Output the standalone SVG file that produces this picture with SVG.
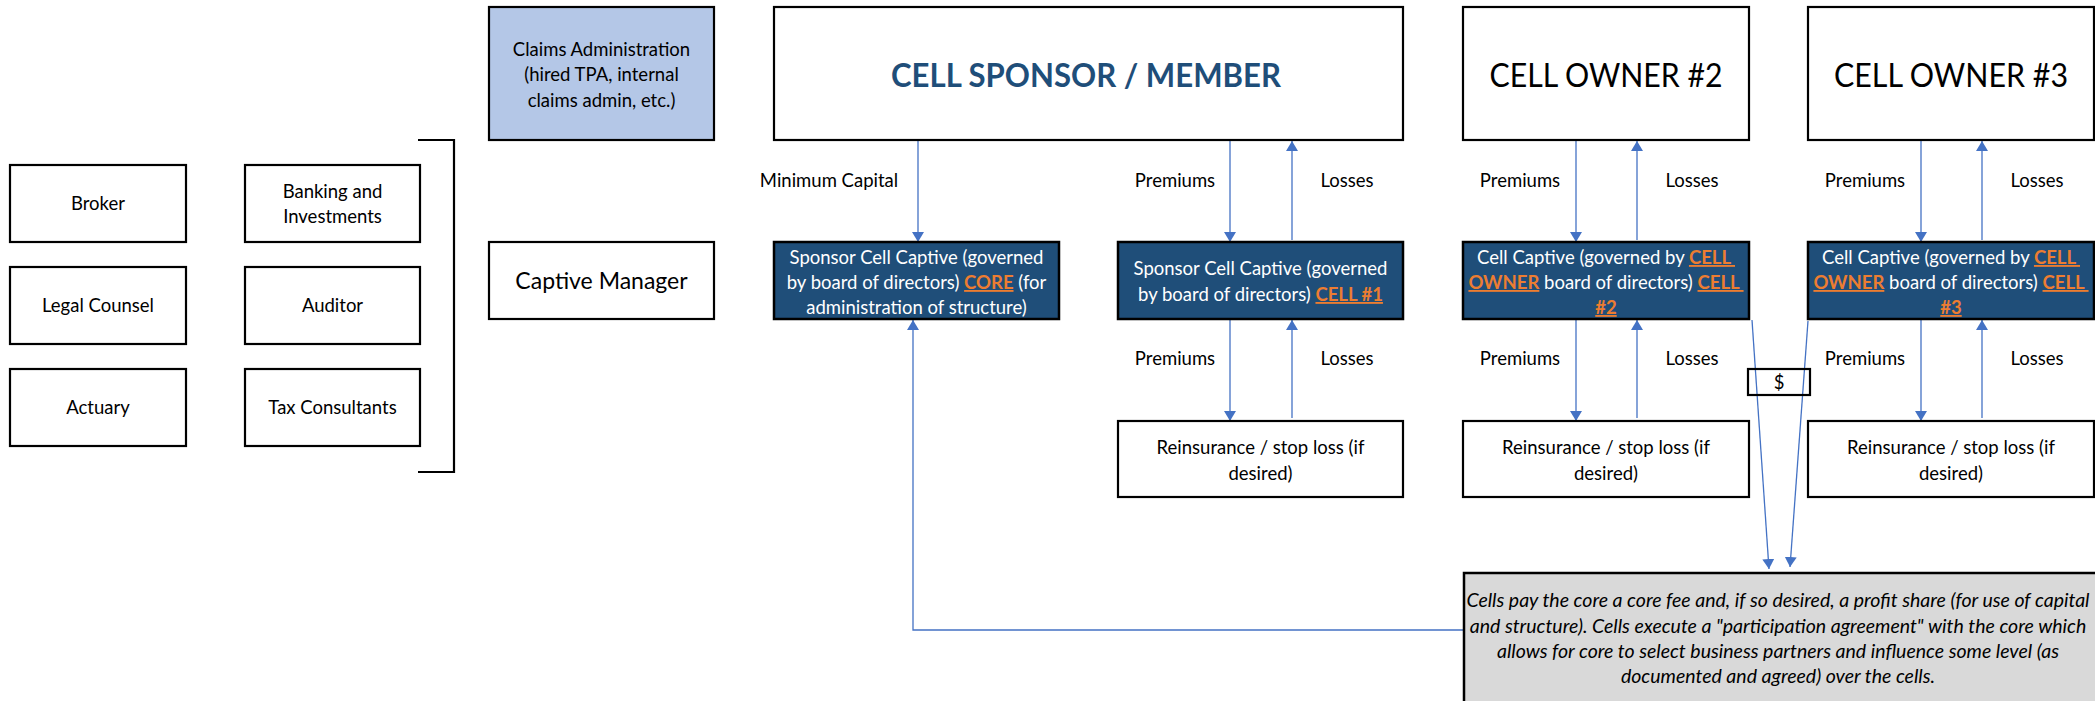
<svg xmlns="http://www.w3.org/2000/svg" width="2095" height="701" viewBox="0 0 2095 701">
<style>
.box{fill:#fff;stroke:#000;stroke-width:2.2}
.dk{fill:#1f4e79;stroke:#000;stroke-width:2.5}
.t{font-family:Lato,"Liberation Sans",sans-serif;font-size:18.5px;fill:#000;text-anchor:middle}
.w{fill:#fff}
.o{fill:#ed7d31;font-weight:bold;text-decoration:underline}
.big{font-size:33px}
.c{fill:none;stroke:#4472c4;stroke-width:1.3}
.n{font-style:italic;font-size:19.5px}
</style>
<defs>
<marker id="ah" markerUnits="userSpaceOnUse" markerWidth="10" markerHeight="12" refX="10" refY="6" orient="auto">
<path d="M0,0 L10,6 L0,12 z" fill="#4472c4"/>
</marker>
</defs>
<rect width="2095" height="701" fill="#fff"/>

<g id="connectors">
<line class="c" x1="918" y1="141" x2="918" y2="242" marker-end="url(#ah)"/>
<line class="c" x1="1230" y1="141" x2="1230" y2="242" marker-end="url(#ah)"/>
<line class="c" x1="1292" y1="240" x2="1292" y2="141" marker-end="url(#ah)"/>
<line class="c" x1="1230" y1="320" x2="1230" y2="421" marker-end="url(#ah)"/>
<line class="c" x1="1292" y1="418" x2="1292" y2="320" marker-end="url(#ah)"/>
<line class="c" x1="1576" y1="141" x2="1576" y2="242" marker-end="url(#ah)"/>
<line class="c" x1="1637" y1="240" x2="1637" y2="141" marker-end="url(#ah)"/>
<line class="c" x1="1576" y1="320" x2="1576" y2="421" marker-end="url(#ah)"/>
<line class="c" x1="1637" y1="418" x2="1637" y2="320" marker-end="url(#ah)"/>
<line class="c" x1="1921" y1="141" x2="1921" y2="242" marker-end="url(#ah)"/>
<line class="c" x1="1982" y1="240" x2="1982" y2="141" marker-end="url(#ah)"/>
<line class="c" x1="1921" y1="320" x2="1921" y2="421" marker-end="url(#ah)"/>
<line class="c" x1="1982" y1="418" x2="1982" y2="320" marker-end="url(#ah)"/>
<line class="c" x1="1752" y1="320" x2="1769" y2="569" marker-end="url(#ah)"/>
<line class="c" x1="1808" y1="321" x2="1790" y2="567" marker-end="url(#ah)"/>
<polyline class="c" points="1463,630 913,630 913,320" marker-end="url(#ah)"/>
</g>

<g id="bracket"><path d="M418,140 H454 V472 H418" fill="none" stroke="#000" stroke-width="2.2"/></g>

<g id="broker"><rect class="box" x="10" y="165" width="176" height="77"/><text class="t" x="98" y="210">Broker</text></g>
<g id="banking"><rect class="box" x="245" y="165" width="175" height="77"/><text class="t" x="332.5" y="198">Banking and</text><text class="t" x="332.5" y="223">Investments</text></g>
<g id="legal"><rect class="box" x="10" y="267" width="176" height="77"/><text class="t" x="98" y="312">Legal Counsel</text></g>
<g id="auditor"><rect class="box" x="245" y="267" width="175" height="77"/><text class="t" x="332.5" y="312">Auditor</text></g>
<g id="actuary"><rect class="box" x="10" y="369" width="176" height="77"/><text class="t" x="98" y="414">Actuary</text></g>
<g id="tax"><rect class="box" x="245" y="369" width="175" height="77"/><text class="t" x="332.5" y="414">Tax Consultants</text></g>

<g id="claims"><rect x="489" y="7" width="225" height="133" fill="#b4c7e7" stroke="#000" stroke-width="2.2"/>
<text class="t" x="601.5" y="56">Claims Administration</text><text class="t" x="601.5" y="81">(hired TPA, internal</text><text class="t" x="601.5" y="107">claims admin, etc.)</text></g>
<g id="captive-manager"><rect class="box" x="489" y="242" width="225" height="77"/><text class="t" x="601.5" y="289" style="font-size:23px">Captive Manager</text></g>

<g id="sponsor"><rect class="box" x="774" y="7" width="629" height="133"/><text class="t big" x="1086" y="87" textLength="390" lengthAdjust="spacingAndGlyphs" style="fill:#1f4e79;font-weight:bold">CELL SPONSOR / MEMBER</text></g>
<g id="owner2"><rect class="box" x="1463" y="7" width="286" height="133"/><text class="t big" x="1606" y="87" textLength="233" lengthAdjust="spacingAndGlyphs">CELL OWNER #2</text></g>
<g id="owner3"><rect class="box" x="1808" y="7" width="286" height="133"/><text class="t big" x="1951" y="87" textLength="234" lengthAdjust="spacingAndGlyphs">CELL OWNER #3</text></g>

<g id="labels">
<text class="t" x="829" y="187">Minimum Capital</text>
<text class="t" x="1175" y="187">Premiums</text><text class="t" x="1347" y="187">Losses</text>
<text class="t" x="1175" y="365">Premiums</text><text class="t" x="1347" y="365">Losses</text>
<text class="t" x="1520" y="187">Premiums</text><text class="t" x="1692" y="187">Losses</text>
<text class="t" x="1520" y="365">Premiums</text><text class="t" x="1692" y="365">Losses</text>
<text class="t" x="1865" y="187">Premiums</text><text class="t" x="2037" y="187">Losses</text>
<text class="t" x="1865" y="365">Premiums</text><text class="t" x="2037" y="365">Losses</text>
</g>

<g id="core"><rect class="dk" x="774" y="242" width="285" height="77"/>
<text class="t w" x="916.5" y="264">Sponsor Cell Captive (governed</text>
<text class="t w" x="916.5" y="289">by board of directors) <tspan class="o">CORE</tspan> (for</text>
<text class="t w" x="916.5" y="314">administration of structure)</text></g>
<g id="cell1"><rect class="dk" x="1118" y="242" width="285" height="77"/>
<text class="t w" x="1260.5" y="275">Sponsor Cell Captive (governed</text>
<text class="t w" x="1260.5" y="301">by board of directors) <tspan class="o">CELL #1</tspan></text></g>
<g id="cell2"><rect class="dk" x="1463" y="242" width="286" height="77"/>
<text class="t w" x="1606" y="264">Cell Captive (governed by <tspan class="o">CELL&#160;</tspan></text>
<text class="t w" x="1606" y="289"><tspan class="o">OWNER</tspan> board of directors) <tspan class="o">CELL&#160;</tspan></text>
<text class="t w" x="1606" y="314"><tspan class="o">#2</tspan></text></g>
<g id="cell3"><rect class="dk" x="1808" y="242" width="286" height="77"/>
<text class="t w" x="1951" y="264">Cell Captive (governed by <tspan class="o">CELL&#160;</tspan></text>
<text class="t w" x="1951" y="289"><tspan class="o">OWNER</tspan> board of directors) <tspan class="o">CELL&#160;</tspan></text>
<text class="t w" x="1951" y="314"><tspan class="o">#3</tspan></text></g>

<g id="reins1"><rect class="box" x="1118" y="421" width="285" height="76"/><text class="t" x="1260.5" y="454">Reinsurance / stop loss (if</text><text class="t" x="1260.5" y="480">desired)</text></g>
<g id="reins2"><rect class="box" x="1463" y="421" width="286" height="76"/><text class="t" x="1606" y="454">Reinsurance / stop loss (if</text><text class="t" x="1606" y="480">desired)</text></g>
<g id="reins3"><rect class="box" x="1808" y="421" width="286" height="76"/><text class="t" x="1951" y="454">Reinsurance / stop loss (if</text><text class="t" x="1951" y="480">desired)</text></g>

<g id="dollar"><rect x="1748" y="369" width="62" height="26" fill="none" stroke="#000" stroke-width="2.2"/><text class="t" x="1779" y="389">$</text></g>

<g id="note"><rect x="1464" y="573" width="640" height="140" fill="#d9d9d9" stroke="#000" stroke-width="2.5"/>
<text class="t n" x="1778" y="607">Cells pay the core a core fee and, if so desired, a profit share (for use of capital</text>
<text class="t n" x="1778" y="632.5">and structure). Cells execute a "participation agreement" with the core which</text>
<text class="t n" x="1778" y="658">allows for core to select business partners and influence some level (as</text>
<text class="t n" x="1778" y="683">documented and agreed) over the cells.</text></g>
</svg>
